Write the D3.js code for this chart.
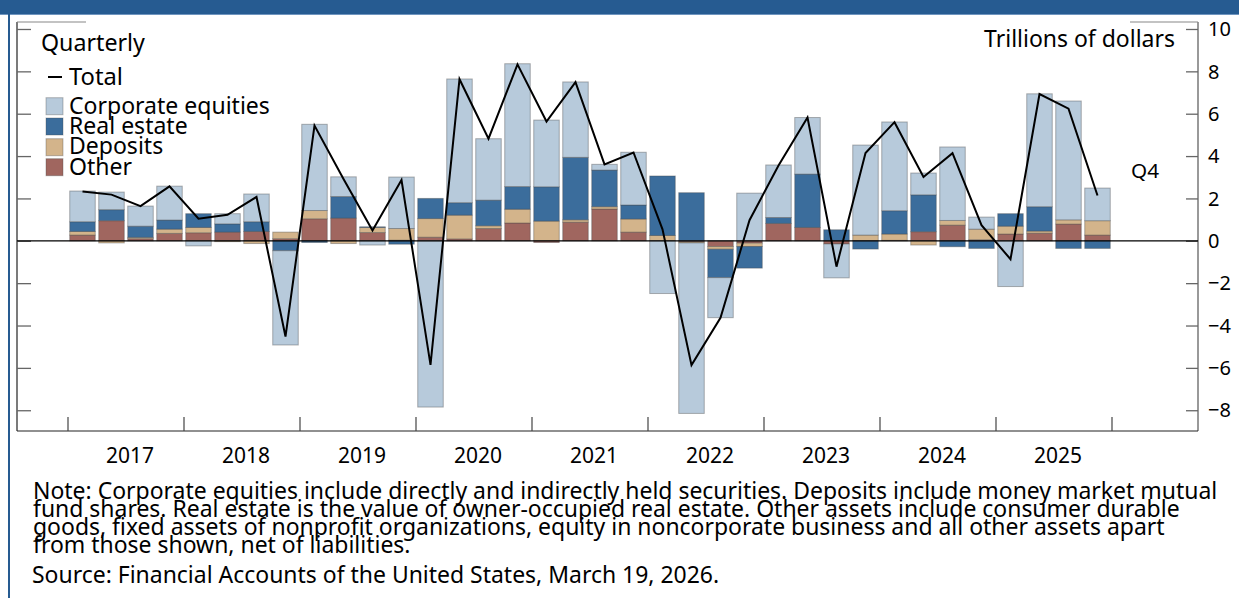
<!DOCTYPE html>
<html><head><meta charset="utf-8">
<script src="https://cdn.jsdelivr.net/npm/d3@7"></script>
<style>body{margin:0;background:#fff} svg{display:block} text{font-family:'Noto Sans',sans-serif;fill:#000}</style>
</head><body><svg id="c" width="1239" height="598"></svg>
<script>
const years = ["2017","2018","2019","2020","2021","2022","2023","2024","2025"];
const quarterNames = ["Q1","Q2","Q3","Q4"];
const quarters = years.flatMap(y => quarterNames.map(q => y + " " + q));

const other      = [0.27,0.95,0.10,0.35, 0.38,0.41,0.44,0.10, 1.04,1.07,0.39,0.03, 0.17,0.09,0.58,0.84, -0.08,0.88,1.50,0.41, 0.00,-0.05,-0.27,-0.11, 0.82,0.63,-0.15,0.00, 0.02,0.43,0.74,0.05, 0.32,0.36,0.79,0.27];
const deposits   = [0.17,-0.10,0.06,0.20, 0.25,-0.04,-0.13,0.31, 0.39,-0.13,0.24,0.55, 0.88,1.12,0.13,0.65, 0.93,0.11,0.11,0.62, 0.25,-0.05,-0.13,-0.16, 0.00,0.00,0.00,0.27, 0.30,-0.20,0.22,0.50, 0.37,0.10,0.20,0.68];
const realEstate = [0.46,0.52,0.53,0.43, 0.65,0.39,0.46,-0.47, -0.08,1.02,0.03,-0.16, 0.95,0.59,1.21,1.07, 1.62,2.95,1.73,0.66, 2.81,2.27,-1.34,-1.02, 0.28,2.52,0.52,-0.39, 1.10,1.74,-0.28,-0.36, 0.59,1.15,-0.36,-0.36];
const equities   = [1.45,0.83,0.95,1.60, -0.24,0.48,1.31,-4.45, 4.07,0.93,-0.20,2.43, -7.85,5.84,2.90,5.80, 3.15,3.56,0.27,2.49, -2.49,-8.05,-1.89,2.25, 2.48,2.67,-1.60,4.25, 4.19,1.03,3.47,0.57, -2.16,5.33,5.61,1.54];
const total      = [2.33,2.18,1.64,2.57, 1.04,1.23,2.07,-4.52, 5.44,2.92,0.49,2.87, -5.86,7.63,4.82,8.33, 5.63,7.49,3.61,4.17, 0.54,-5.87,-3.64,0.97, 3.55,5.82,-1.22,4.14, 5.60,3.01,4.14,0.74, -0.87,6.93,6.24,2.14];
const yTicks = [10,8,6,4,2,0,-2,-4,-6,-8];
const seriesNames = ["Corporate equities","Real estate","Deposits","Other"];

const colors = {equities:"#b7cadb", realEstate:"#3b6d9c", deposits:"#d3b48b", other:"#a0665f"};
const keys = ["other","deposits","realEstate","equities"];
const rows = quarters.map((q,i)=>({q, other:other[i], deposits:deposits[i], realEstate:realEstate[i], equities:equities[i], total:total[i]}));

const svg = d3.select("#c");
const L = 17, R = 1198, T = 22, B = 431;
const x = d3.scaleBand().domain(quarters).range([68,1112]).paddingInner(0.12).paddingOuter(0.06);
const y = d3.scaleLinear().domain([-8.98,10.33]).range([B,T]);
const xYear = d3.scaleBand().domain(years).range([68,1112]);

// header
svg.append("rect").attr("x",0).attr("y",0).attr("width",1239).attr("height",14).attr("fill","#265b91");
svg.append("rect").attr("x",0).attr("y",14).attr("width",1239).attr("height",1).attr("fill","#6f95bf");
svg.append("rect").attr("x",8).attr("y",14).attr("width",2).attr("height",584).attr("fill","#265b91");

// bars
const stack = d3.stack().keys(keys).offset(d3.stackOffsetDiverging)(rows);
svg.append("g").selectAll("g").data(stack).join("g")
  .attr("fill", d=>colors[d.key])
  .selectAll("rect").data(d=>d).join("rect")
  .attr("x", d=>x(d.data.q)).attr("width", x.bandwidth())
  .attr("y", d=>y(Math.max(d[0],d[1]))).attr("height", d=>Math.abs(y(d[0])-y(d[1])))
  .attr("stroke","rgba(70,70,70,0.4)").attr("stroke-width",1);

// frame
const fr = svg.append("g").attr("stroke","#555").attr("stroke-width",1.2).attr("fill","none");
fr.append("line").attr("x1",L).attr("x2",L).attr("y1",T).attr("y2",B).attr("stroke","#222");
fr.append("line").attr("x1",R).attr("x2",R).attr("y1",T).attr("y2",B);
fr.append("line").attr("x1",L).attr("x2",R).attr("y1",B).attr("y2",B).attr("stroke","#222");
fr.append("line").attr("x1",L).attr("x2",86).attr("y1",T).attr("y2",T).attr("stroke","#888");
fr.append("line").attr("x1",1130).attr("x2",R).attr("y1",T).attr("y2",T).attr("stroke","#888");

// y ticks left (inward) and right axis
svg.append("g").attr("transform",`translate(${L},0)`)
  .call(d3.axisRight(y).tickValues(yTicks).tickSize(14).tickFormat(""))
  .call(g=>{g.select(".domain").remove(); g.selectAll("line").attr("stroke","#666").attr("stroke-width",1.3);});
svg.append("g").attr("transform",`translate(${R},0)`)
  .call(d3.axisLeft(y).tickValues(yTicks).tickSize(12).tickFormat(""))
  .call(g=>{g.select(".domain").remove(); g.selectAll("line").attr("stroke","#666").attr("stroke-width",1.3);});
svg.append("g").selectAll("text").data(yTicks).join("text")
  .attr("x",1208).attr("y",d=>y(d)).attr("dy","0.36em").attr("font-size",20)
  .text(d=> d<0 ? "\u2212"+Math.abs(d) : d);

// year ticks
svg.append("g").selectAll("line").data(years.concat(["end"])).join("line")
  .attr("x1",(d,i)=>68+i*xYear.step()).attr("x2",(d,i)=>68+i*xYear.step())
  .attr("y1",B-14).attr("y2",B).attr("stroke","#444").attr("stroke-width",1.2);
svg.append("g").selectAll("text").data(years).join("text")
  .attr("x",d=>xYear(d)+xYear.bandwidth()/2+4).attr("y",463).attr("text-anchor","middle").attr("font-size",21)
  .text(d=>d);

// zero line
svg.append("line").attr("x1",L).attr("x2",R).attr("y1",y(0)).attr("y2",y(0)).attr("stroke","#000").attr("stroke-width",1.3);

// total line
svg.append("path").datum(rows)
  .attr("d", d3.line().x(d=>x(d.q)+x.bandwidth()/2).y(d=>y(d.total)))
  .attr("fill","none").attr("stroke","#000").attr("stroke-width",2);

function fit(sel, target){ const w = sel.node().getComputedTextLength(); const fs = parseFloat(sel.attr("font-size"))*target/w; sel.attr("font-size",fs); return fs; }

// legend
svg.append("text").attr("x",41).attr("y",51).attr("font-size",21).text("Quarterly").call(s=>fit(s,104));
svg.append("line").attr("x1",48).attr("x2",62).attr("y1",77).attr("y2",77).attr("stroke","#000").attr("stroke-width",2);
svg.append("text").attr("x",69).attr("y",85).attr("font-size",21).text("Total").call(s=>fit(s,54));
const legKeys = ["equities","realEstate","deposits","other"];
const swY = [97.7,118,138.7,158.7];
const txY = [114,134,154,175];
const lg = svg.append("g");
lg.selectAll("rect").data(legKeys).join("rect")
  .attr("x",46).attr("y",(d,i)=>swY[i]).attr("width",17).attr("height",17)
  .attr("fill",d=>colors[d]).attr("stroke","rgba(70,70,70,0.35)");
const lt = lg.selectAll("text").data(seriesNames).join("text")
  .attr("x",69).attr("y",(d,i)=>txY[i]).attr("font-size",21).text(d=>d);
const lfs = fit(lt.filter((d,i)=>i===0), 201);
lt.attr("font-size",lfs);

svg.append("text").attr("x",1175).attr("y",47).attr("text-anchor","end").attr("font-size",20).text("Trillions of dollars").call(s=>fit(s,191));
svg.append("text").attr("x",1131).attr("y",178).attr("font-size",20).text("Q4").call(s=>fit(s,28));

// notes
const noteLines = [
 "Note: Corporate equities include directly and indirectly held securities. Deposits include money market mutual",
 "fund shares. Real estate is the value of owner-occupied real estate. Other assets include consumer durable",
 "goods, fixed assets of nonprofit organizations, equity in noncorporate business and all other assets apart",
 "from those shown, net of liabilities.",
 "Source: Financial Accounts of the United States, March 19, 2026."
];
const noteY = [499,517,535,553,583];
const nt = svg.append("g").selectAll("text").data(noteLines).join("text")
  .attr("x",(d,i)=> i===4 ? 32 : 33).attr("y",(d,i)=>noteY[i]).attr("font-size",19).text(d=>d);
const nfs = fit(nt.filter((d,i)=>i===0), 1185);
nt.attr("font-size",nfs);
</script></body></html>
